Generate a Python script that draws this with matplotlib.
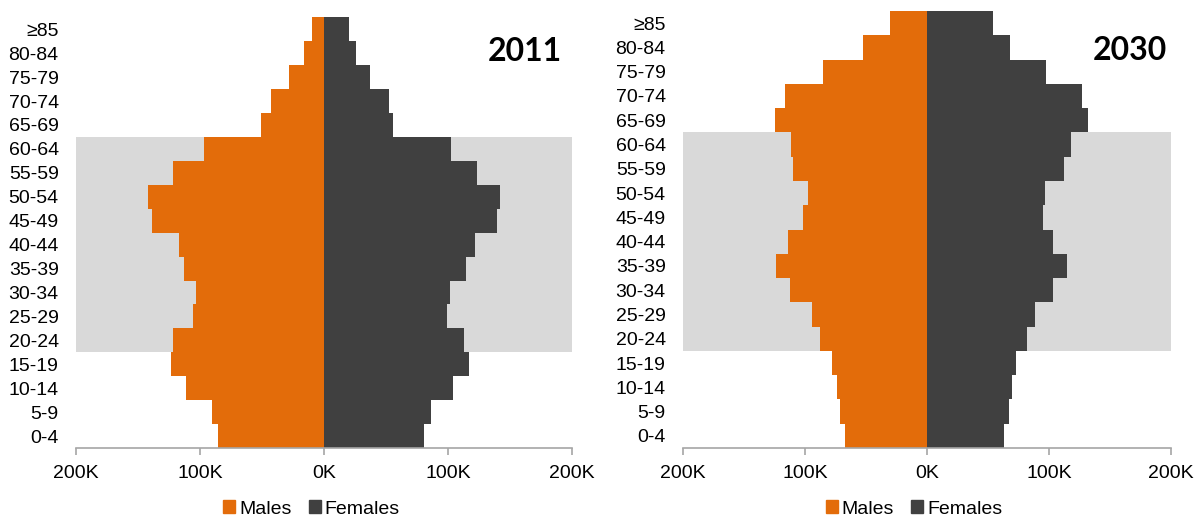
import matplotlib
matplotlib.use("Agg")
import matplotlib.pyplot as plt
from matplotlib.ticker import FuncFormatter
from matplotlib.patches import Patch

plt.rcParams['font.family'] = ['Liberation Sans', 'DejaVu Sans']

age_groups = ["0-4", "5-9", "10-14", "15-19", "20-24", "25-29", "30-34", "35-39",
              "40-44", "45-49", "50-54", "55-59", "60-64", "65-69", "70-74",
              "75-79", "80-84", "≥85"]

males_2011 = [85400, 90600, 111000, 123000, 121700, 105700, 103500, 113000, 117000,
              139000, 142000, 121700, 97000, 50800, 43000, 28000, 16300, 9700]
females_2011 = [80700, 86000, 104000, 117000, 112800, 99000, 102000, 114600, 121400,
                139600, 141800, 123300, 102300, 56000, 52400, 36700, 25600, 20200]

males_2030 = [67000, 71700, 73900, 78000, 87600, 94200, 112000, 124000, 113800,
              102000, 97900, 109700, 111600, 125000, 116300, 85400, 52700, 30600]
females_2030 = [63000, 67300, 69500, 73000, 81700, 88200, 103500, 114400, 103500,
                94800, 97000, 112500, 118200, 132200, 126900, 97900, 67700, 54200]

years = ["2011", "2030"]
working_age = ("20-24", "60-64")

MALE_COLOR = "#E36C0A"
FEMALE_COLOR = "#404040"
BAND_COLOR = "#D9D9D9"
AXIS_COLOR = "#A6A6A6"

W, H = 1197, 522
fig = plt.figure(figsize=(W / 100, H / 100), dpi=100)

# panel rectangles in pixels: left, top, right, bottom
panel_px = [(76, 17.3, 572, 448), (683, 11, 1171, 448)]
year_px = [(525, 51.5), (1130, 51)]
legend_px = [(311.5, 509), (914, 509)]

datasets = [(males_2011, females_2011), (males_2030, females_2030)]

for (l, t, r, b), (males, females), year, ypos, lpos in zip(
        panel_px, datasets, years, year_px, legend_px):
    ax = fig.add_axes([l / W, 1 - b / H, (r - l) / W, (b - t) / H])
    pos = list(range(len(age_groups)))
    lo = age_groups.index(working_age[0]) - 0.5
    hi = age_groups.index(working_age[1]) + 0.5
    ax.axhspan(lo, hi, color=BAND_COLOR, lw=0, zorder=0)
    ax.barh(pos, [-m for m in males], height=1.0, color=MALE_COLOR, lw=0, zorder=2)
    ax.barh(pos, females, height=1.0, color=FEMALE_COLOR, lw=0, zorder=2)

    ax.set_xlim(-200000, 200000)
    ax.set_ylim(-0.5, len(age_groups) - 0.5)
    ax.set_xticks([-200000, -100000, 0, 100000, 200000])
    ax.xaxis.set_major_formatter(FuncFormatter(lambda v, p: f"{abs(v) / 1000:.0f}K"))
    ax.set_yticks(pos)
    ax.set_yticklabels(age_groups)

    for s in ("top", "right", "left"):
        ax.spines[s].set_visible(False)
    ax.spines["bottom"].set_color(AXIS_COLOR)
    ax.spines["bottom"].set_linewidth(1.2)
    ax.tick_params(axis="x", colors=AXIS_COLOR, length=5, width=1.2,
                   labelcolor="black", labelsize=14, pad=7)
    ax.tick_params(axis="y", length=0, labelsize=14, pad=12.5)
    ax.set_facecolor("none")

    fig.text(ypos[0] / W, 1 - ypos[1] / H, year, fontsize=23,
             fontweight="bold", family="Lato", ha="center", va="center")

    handles = [Patch(color=MALE_COLOR, label="Males"),
               Patch(color=FEMALE_COLOR, label="Females")]
    fig.legend(handles=handles, loc="center",
               bbox_to_anchor=(lpos[0] / W, 1 - lpos[1] / H), ncol=2,
               frameon=False, fontsize=14, handlelength=0.6, handleheight=0.6,
               handletextpad=0.2, columnspacing=0.9, borderaxespad=0,
               borderpad=0)

fig.savefig("out.png", dpi=100)
